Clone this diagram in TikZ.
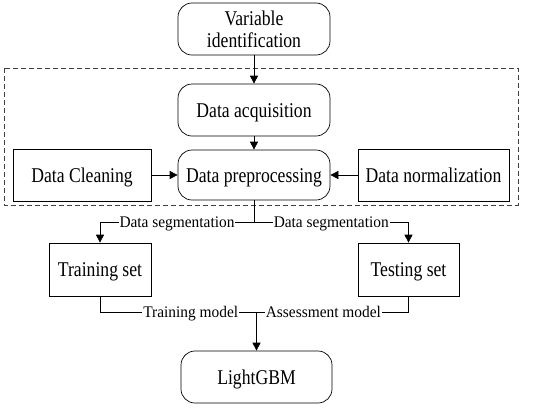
\documentclass[tikz,border=0pt]{standalone}
\usepackage{fontspec}
\setmainfont{Liberation Serif}[FakeStretch=0.84]
\newfontfamily\lblfont{Liberation Serif}[FakeStretch=0.95]
\usetikzlibrary{arrows.meta}

\begin{document}
\begin{tikzpicture}[x=1pt,y=-1pt,line width=0.7pt,
        roundbox/.style={draw,rounded corners=14pt,minimum width=152pt,minimum height=52pt,inner sep=0pt,align=center,font=\fontsize{21}{22}\selectfont},
        oneline/.style={text height=14pt,text depth=0pt},
        sqbox/.style={draw,minimum height=52pt,inner sep=0pt,oneline,font=\fontsize{21}{22}\selectfont},
        lbl/.style={fill=white,inner sep=1pt,text height=10.7pt,text depth=0pt,font=\lblfont\fontsize{16.2}{18}\selectfont},
        arr/.style={-{Triangle[length=8pt,width=8pt]}}]
        \useasboundingbox (0,0) rectangle (550,408);

        % preprocessing block
        \draw[black!75,dash pattern=on 5pt off 3pt] (4,68) rectangle (518,205);

        \node[roundbox] (varid) at (254,29) {Variable\\identification};
        \node[roundbox,oneline] (acq) at (254,110) {Data acquisition};
        \node[roundbox,oneline,minimum height=50pt] (prep) at (254,175) {Data preprocessing};
        \node[sqbox,minimum width=138pt] (clean) at (82,175) {Data Cleaning};
        \node[sqbox,minimum width=151pt] (norm) at (433.5,175) {Data normalization};

        \draw[arr] (varid) -- (acq);
        \draw[arr] (acq) -- (prep);
        \draw[arr] (clean) -- (prep);
        \draw[arr] (norm) -- (prep);

        % data segmentation
        \node[sqbox,minimum width=102pt,minimum height=53pt] (train) at (100,269.5) {Training set};
        \node[sqbox,minimum width=101pt,minimum height=53pt] (test) at (408.5,269.5) {Testing set};
        \coordinate (seg) at (254,222);
        \draw (prep) -- (seg);
        \draw[arr] (seg) -- node[lbl,pos=0.5]{Data segmentation} (train.north |- seg) -- (train);
        \draw[arr] (seg) -- node[lbl,pos=0.5]{Data segmentation} (test.north |- seg) -- (test);

        % model
        \node[roundbox,oneline,minimum width=151pt] (lgbm) at (256.5,377) {LightGBM};
        \coordinate (mdl) at (256.5,312);
        \draw (train) |- node[lbl,pos=0.79]{Training model} (mdl);
        \draw (test) |- node[lbl,pos=0.78]{Assessment model} (mdl);
        \draw[arr] (mdl) -- (lgbm);
    \end{tikzpicture}
\end{document}
